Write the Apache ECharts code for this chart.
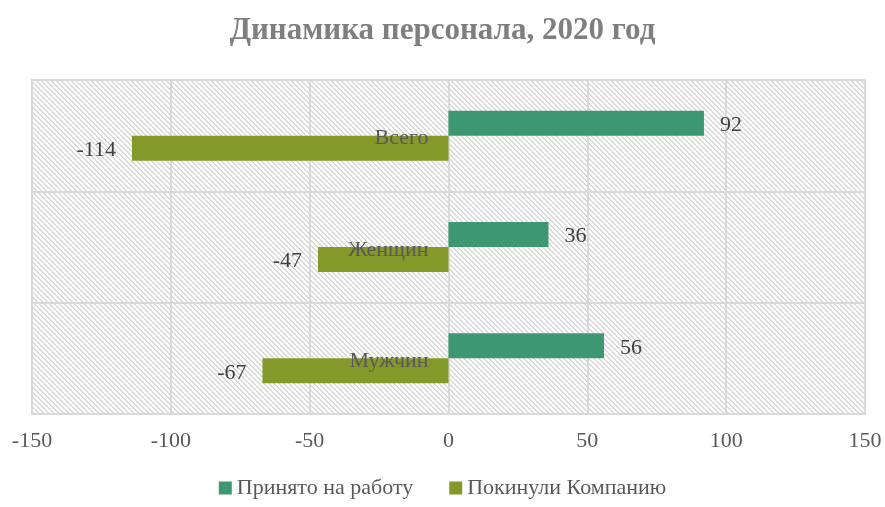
<!DOCTYPE html>
<html>
<head>
<meta charset="utf-8">
<script src="https://cdn.jsdelivr.net/npm/echarts@6/dist/echarts.min.js"></script>
<style>
  html, body { margin: 0; padding: 0; background: #fff; }
  #chart { width: 885px; height: 507px; }
</style>
</head>
<body>
<div id="chart"></div>
<script>
var categories = ['Всего', 'Женщин', 'Мужчин'];
var hired = [92, 36, 56];
var left = [-114, -47, -67];
var seriesNames = ['Принято на работу', 'Покинули Компанию'];

var font = '"Liberation Serif", "DejaVu Serif", serif';

// diagonal hatch like the Excel plot area fill
function hatch() {
    var n = 5;
    var c = document.createElement('canvas');
    c.width = n; c.height = n;
    var ctx = c.getContext('2d');
    ctx.fillStyle = '#ffffff';
    ctx.fillRect(0, 0, n, n);
    ctx.fillStyle = '#dadada';
    for (var i = 0; i < n; i++) {
        ctx.fillRect(i, i, 1, 1);
        ctx.fillRect((i + 1) % n, i, 1, 1);
    }
    return c;
}

var myChart = echarts.init(document.getElementById('chart'));

// plot spans 32..865 px for -150..150, so zero sits 416.5 px right of the left edge
var zeroShift = -(865 - 32) / 2;

option = {
    backgroundColor: '#fff',
    animation: false,
    title: {
        text: 'Динамика персонала, 2020 год',
        left: 'center',
        top: 10,
        textStyle: {
            fontFamily: font,
            fontSize: 31,
            fontWeight: 'bold',
            color: '#7f7f7f'
        }
    },
    legend: {
        data: seriesNames,
        bottom: 3,
        icon: 'rect',
        itemWidth: 13,
        itemHeight: 13,
        itemGap: 36,
        textStyle: {
            fontFamily: font,
            fontSize: 22,
            color: '#595959'
        }
    },
    grid: {
        left: 32,
        right: 20,
        top: 80,
        bottom: 93,
        outerBoundsMode: 'none',
        show: true,
        borderColor: '#d9d9d9',
        borderWidth: 2,
        backgroundColor: { image: hatch(), repeat: 'repeat' }
    },
    xAxis: {
        type: 'value',
        min: -150,
        max: 150,
        interval: 50,
        axisLine: { show: false },
        axisTick: { show: false },
        splitLine: {
            lineStyle: { color: '#d9d9d9', width: 2 }
        },
        axisLabel: {
            fontFamily: font,
            fontSize: 22,
            color: '#595959',
            margin: 16
        }
    },
    yAxis: {
        type: 'category',
        inverse: true,
        data: categories,
        offset: zeroShift,
        z: 5,
        axisLine: { show: false, onZero: false },
        axisTick: { show: false },
        splitLine: {
            show: true,
            lineStyle: { color: '#d9d9d9', width: 2 }
        },
        axisLabel: {
            fontFamily: font,
            fontSize: 22,
            color: '#595959',
            margin: 20,
            lineHeight: 30,
            verticalAlign: 'top',
            padding: [-12, 0, 0, 0]
        }
    },
    series: [
        {
            name: seriesNames[0],
            type: 'bar',
            data: hired,
            barWidth: 25,
            barGap: '0%',
            itemStyle: { color: '#3d9872' },
            label: {
                show: true,
                position: 'right',
                distance: 16,
                offset: [0, 2],
                fontFamily: font,
                fontSize: 22,
                color: '#404040'
            }
        },
        {
            name: seriesNames[1],
            type: 'bar',
            data: left,
            barWidth: 25,
            barGap: '0%',
            itemStyle: { color: '#84992a' },
            label: {
                show: true,
                position: 'left',
                distance: 16,
                offset: [0, 2],
                fontFamily: font,
                fontSize: 22,
                color: '#404040'
            }
        }
    ]
};
myChart.setOption(option);
</script>
</body>
</html>
